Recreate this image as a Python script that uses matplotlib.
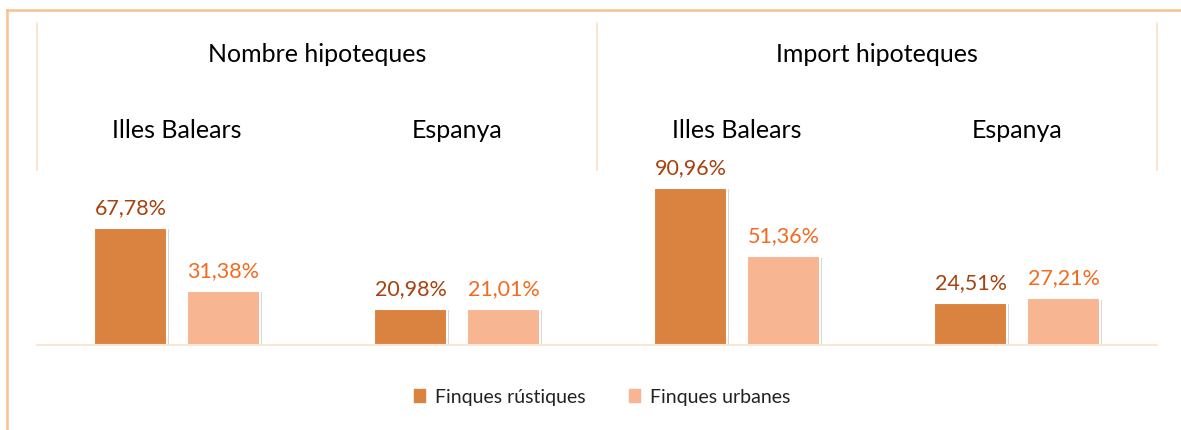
import numpy as np
from matplotlib import pyplot as plt, patches, patheffects

# data
groups = ['Nombre hipoteques', 'Import hipoteques']
regions = ['Illes Balears', 'Espanya', 'Illes Balears', 'Espanya']
rustiques = [67.78, 20.98, 90.96, 24.51]
urbanes = [31.38, 21.01, 51.36, 27.21]
series_names = ['Finques rústiques', 'Finques urbanes']

DARK = '#DA823F'
LIGHT = '#F8B592'
DARK_TXT = '#A5420F'
LIGHT_TXT = '#F36A1E'
BORDER = '#FAC08F'
GRID = '#FBE1CC'
FONT = 'Lato'

plt.rcParams['font.family'] = [FONT, 'DejaVu Sans']

W, H = 1181, 430
fig = plt.figure(figsize=(W / 100, H / 100), dpi=100)

# axes: x 37..1157 px, baseline at y=345, top at y=170
ax = fig.add_axes([37 / W, (H - 345) / H, (1157 - 37) / W, (345 - 170) / H])
ax.set_xlim(-0.5, 3.5)
ax.set_ylim(0, 101.2)
ax.axis('off')

x = np.arange(len(regions))
width = 0.26
off = 0.166
shadow = [patheffects.SimplePatchShadow(offset=(1.2, -1.2), shadow_rgbFace='#999999', alpha=0.4),
          patheffects.Normal()]

b1 = ax.bar(x - off, rustiques, width, color=DARK, edgecolor='white', linewidth=1.5, label=series_names[0])
b2 = ax.bar(x + off, urbanes, width, color=LIGHT, edgecolor='white', linewidth=1.5, label=series_names[1])
for b in list(b1) + list(b2):
    b.set_path_effects(shadow)

for bars, vals, col in [(b1, rustiques, DARK_TXT), (b2, urbanes, LIGHT_TXT)]:
    for bar, v in zip(bars, vals):
        ax.annotate(f'{v:.2f}%'.replace('.', ','),
                    (bar.get_x() + bar.get_width() / 2, bar.get_height()),
                    xytext=(0, 7), textcoords='offset points',
                    ha='center', va='bottom', fontsize=15.5, color=col)

# baseline
ax.plot([0, 1], [0, 0], transform=ax.transAxes, color=GRID, lw=1.2, clip_on=False)

# header lines
top = (345 - 23) / 175
for xv in [0, 0.5, 1]:
    ax.plot([xv, xv], [1, top], transform=ax.transAxes, color=GRID, lw=1.2, clip_on=False)

# headers
y_group = (345 - 55) / 175
y_region = (345 - 130) / 175
for i, g in enumerate(groups):
    ax.text(0.25 + 0.5 * i, y_group, g, transform=ax.transAxes, ha='center', va='center',
            fontsize=18, color='black')
for xi, r in zip(x, regions):
    ax.text(xi, y_region, r, transform=ax.get_xaxis_transform(), ha='center', va='center',
            fontsize=18, color='black')

# outer border
fig.add_artist(plt.Line2D([7 / W, 7 / W], [0, (H - 10) / H], color=BORDER, lw=1.8))
fig.add_artist(plt.Line2D([7 / W, 1], [(H - 10) / H, (H - 10) / H], color=BORDER, lw=1.8))

handles = [patches.Patch(color=DARK, label=series_names[0]),
           patches.Patch(color=LIGHT, label=series_names[1])]
fig.legend(handles=handles, loc='center', bbox_to_anchor=(602 / W, (H - 397) / H),
           ncol=2, frameon=False, fontsize=14, handlelength=0.6, handleheight=0.6,
           handletextpad=0.5, columnspacing=2.2, labelcolor='#222222')

fig.savefig('out.png', dpi=100)
